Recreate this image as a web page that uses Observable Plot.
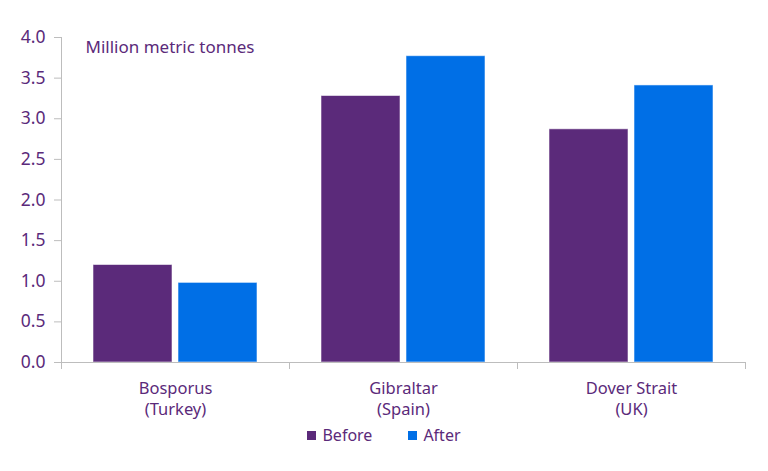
<!DOCTYPE html>
<html>
<head>
<meta charset="utf-8">
<script src="https://cdn.jsdelivr.net/npm/d3@7"></script>
<script src="https://cdn.jsdelivr.net/npm/@observablehq/plot@0.6"></script>
<style>
  html, body { margin: 0; padding: 0; background: #fff; }
  body { width: 768px; height: 471px; overflow: hidden; font-family: "Noto Sans", sans-serif; color: #5b2a7a; }
  #legend { display: flex; justify-content: center; align-items: center; height: 30px; font-size: 16px; padding-left: 0; }
  .item { display: flex; align-items: center; margin: 0 18px; }
  .sw { width: 9px; height: 9px; margin-right: 6px; }
</style>
</head>
<body>
<div id="chart"></div>
<div id="legend"></div>
<script>
const straits = ["Bosporus\n(Turkey)", "Gibraltar\n(Spain)", "Dover Strait\n(UK)"];
const periods = ["Before", "After"];
const beforeValues = [1.20, 3.28, 2.87];
const afterValues = [0.98, 3.77, 3.41];
const yTicks = [0, 0.5, 1, 1.5, 2, 2.5, 3, 3.5, 4];
const unitLabel = "Million metric tonnes";
const colors = ["#5b2a7a", "#006fe6"];
const textColor = "#5b2a7a";
const axisGrey = "#bdbdbd";

const data = [];
straits.forEach((s, i) => {
  data.push({strait: s, period: "Before", value: beforeValues[i]});
  data.push({strait: s, period: "After", value: afterValues[i]});
});

const chart = Plot.plot({
  width: 768,
  height: 420,
  marginTop: 37,
  marginBottom: 58,
  marginLeft: 60,
  marginRight: 22,
  style: {fontFamily: "Noto Sans, sans-serif", background: "white"},
  fx: {domain: straits, padding: 0, label: null},
  x: {domain: periods, paddingInner: 0.07, paddingOuter: 0.372, axis: null},
  y: {domain: [0, 4], label: null},
  color: {domain: periods, range: colors},
  marks: [
    Plot.barY(data, {fx: "strait", x: "period", y: "value", fill: "period", stroke: "white", strokeOpacity: 0.55, strokeWidth: 1}),
    Plot.ruleY([0], {stroke: axisGrey}),
    Plot.frame({anchor: "left", facetAnchor: "left", stroke: axisGrey}),
    Plot.frame({anchor: "left", stroke: axisGrey, insetTop: 325, insetBottom: -6}),
    Plot.frame({anchor: "right", facetAnchor: "right", stroke: axisGrey, insetTop: 325, insetBottom: -6}),
    Plot.axisY({ticks: yTicks, tickFormat: d3.format(".1f"), tickSize: 7, tickPadding: 9, stroke: axisGrey, fill: textColor, fontSize: 17.5, label: null}),
    Plot.axisFx({anchor: "bottom", tickSize: 0, tickPadding: 16, lineHeight: 1.3, fill: textColor, fontSize: 16.5, label: null}),
    Plot.text([unitLabel], {facetAnchor: "left", frameAnchor: "top-left", textAnchor: "start", lineAnchor: "top", dx: 24, dy: 3, fill: textColor, fontSize: 17})
  ]
});
document.getElementById("chart").appendChild(chart);

const legend = document.getElementById("legend");
periods.forEach((p, i) => {
  const item = document.createElement("div");
  item.className = "item";
  const sw = document.createElement("div");
  sw.className = "sw";
  sw.style.background = colors[i];
  const t = document.createElement("span");
  t.textContent = p;
  item.appendChild(sw);
  item.appendChild(t);
  legend.appendChild(item);
});
</script>
</body>
</html>
